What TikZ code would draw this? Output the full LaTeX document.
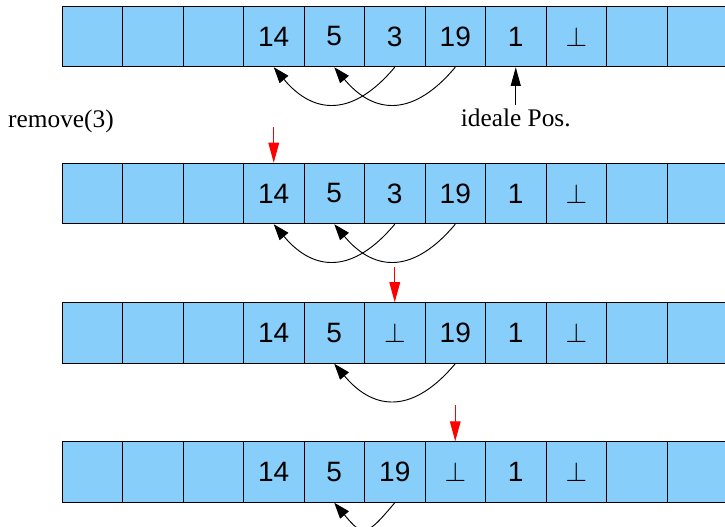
\documentclass[tikz,border=0pt]{standalone}
\usepackage{fontspec}
\setmainfont{Liberation Serif}
\setsansfont{Liberation Sans}
\usetikzlibrary{arrows.meta}
\definecolor{cellblue}{RGB}{135,206,250}
\tikzset{
  cell/.style={draw=black, fill=cellblue, line width=0.75pt, minimum width=45.375pt, minimum height=45.375pt, inner sep=0pt, font=\fontsize{21}{25}\sffamily},
  lbl/.style={font=\fontsize{19}{23}\selectfont, anchor=base},
  arc/.style={line width=0.7pt, -{Triangle[length=12pt,width=8.5pt]}},
  redarr/.style={red, line width=0.8pt, -{Triangle[length=15pt,width=8pt]}},
  blkarr/.style={black, line width=0.8pt, -{Triangle[length=14pt,width=7.5pt]}}
}
\begin{document}
\begin{tikzpicture}[x=0.75pt,y=-0.75pt]
\useasboundingbox (0,0) rectangle (725,527);
\clip (0,0) rectangle (725,527);
% row 1
\foreach \i/\t in {0/{},1/{},2/{},3/14,4/5,5/3,6/19,7/1,8/{$\perp$},9/{},10/{}}
  \node[cell] (r1c\i) at ({92.25+60.5*\i},36.5) {\t};
% row 2
\foreach \i/\t in {0/{},1/{},2/{},3/14,4/5,5/3,6/19,7/1,8/{$\perp$},9/{},10/{}}
  \node[cell] (r2c\i) at ({92.25+60.5*\i},193.5) {\t};
% row 3
\foreach \i/\t in {0/{},1/{},2/{},3/14,4/5,5/{$\perp$},6/19,7/1,8/{$\perp$},9/{},10/{}}
  \node[cell] (r3c\i) at ({92.25+60.5*\i},333) {\t};
% row 4
\foreach \i/\t in {0/{},1/{},2/{},3/14,4/5,5/19,6/{$\perp$},7/1,8/{$\perp$},9/{},10/{}}
  \node[cell] (r4c\i) at ({92.25+60.5*\i},472) {\t};

% labels
\node[lbl] (rem) at (61,128) {remove(3)};
\node[lbl] (ideal) at (515.75,127) {ideale Pos.};
\draw[blkarr] (ideal.north) -- (r1c7.south);

% arcs row 1
\draw[arc] (r1c5.south) to[out=-130,in=-50,looseness=1.35] (r1c3.south);
\draw[arc] (r1c6.south) to[out=-130,in=-50,looseness=1.35] (r1c4.south);
% arcs row 2
\draw[arc] (r2c5.south) to[out=-130,in=-50,looseness=1.35] (r2c3.south);
\draw[arc] (r2c6.south) to[out=-130,in=-50,looseness=1.35] (r2c4.south);
% arc row 3
\draw[arc] (r3c6.south) to[out=-130,in=-50,looseness=1.35] (r3c4.south);
% arc row 4
\draw[arc] (r4c5.south) to[out=-130,in=-50,looseness=1.9] (r4c4.south);

% red arrows
\coordinate (s2) at (273.75,127);
\coordinate (s3) at (394.75,267);
\coordinate (s4) at (455.25,405);
\draw[redarr] (s2) -- (r2c3.north);
\draw[redarr] (s3) -- (r3c5.north);
\draw[redarr] (s4) -- (r4c6.north);
\end{tikzpicture}
\end{document}
